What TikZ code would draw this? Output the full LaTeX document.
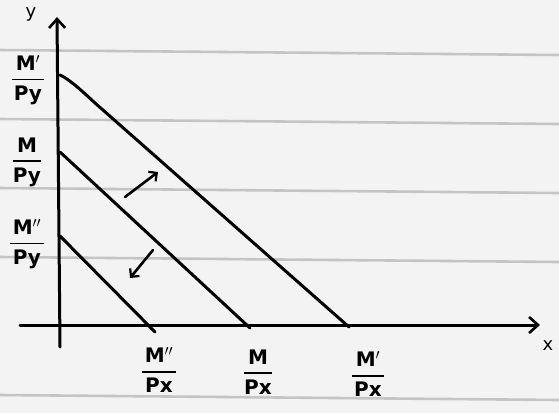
\documentclass[tikz,border=0pt]{standalone}
\usepackage{amsmath}
\usepackage{fontspec}
\setmainfont{DejaVu Sans}
\usetikzlibrary{arrows.meta}
\definecolor{paper}{HTML}{F3F3F3}
\definecolor{rule}{HTML}{C4C4C4}
\newcommand{\hfr}[2]{$\genfrac{}{}{1.8pt}{0}{\text{\,#1\,}}{\text{#2}}$}
\tikzset{
  ink/.style={line width=3pt, black, line cap=round, line join=round},
  budget/.style={ink},
  axisline/.style={ink, -{Straight Barb[length=9pt,width=16pt,line width=2.6pt]}},
  shift arrow/.style={line width=2.6pt, line cap=round, -{Straight Barb[length=6pt,width=12pt,line width=2.2pt]}},
  paperrule/.style={rule, line width=2.6pt},
  lbl/.style={font=\fontsize{20}{22}\selectfont\bfseries, inner sep=0pt, align=center},
  axlbl/.style={font=\fontsize{18}{20}\selectfont, inner sep=0pt}
}
\begin{document}
\begin{tikzpicture}[x=1pt,y=-1pt]
\useasboundingbox (0,0) rectangle (559,413);
\fill[paper] (0,0) rectangle (559,413);
% ruled paper lines
\foreach \yy in {50,119,188,257,395} {
  \draw[paperrule] (0,\yy) -- (559,\yy+5);
}
% axes
\coordinate (ybot) at (60,347);
\coordinate (ytop) at (57,17);
\coordinate (xleft) at (20,325);
\coordinate (xright) at (540,325);
\draw[axisline] (ybot) -- (ytop);
\draw[axisline] (xleft) -- (xright);
\node[axlbl] (ylab) at (31,14) {y};
\node[axlbl] (xlab) at (548,346) {x};
% budget lines
\coordinate (a1) at (60,75);
\coordinate (b1) at (349,327);
\coordinate (a0) at (60,152);
\coordinate (b0) at (250,328);
\coordinate (a2) at (60,236);
\coordinate (b2) at (155,332);
\draw[budget] (a1) .. controls (67,78) and (78,87) .. (95,103) -- (b1);
\draw[budget] (a0) -- (b0);
\draw[budget] (a2) -- (b2);
% shift arrows
\coordinate (u1) at (125,197);
\coordinate (u2) at (158,172);
\coordinate (d1) at (153,250);
\coordinate (d2) at (130,278);
\draw[shift arrow] (u1) -- (u2);
\draw[shift arrow] (d1) -- (d2);
% intercept labels
\node[lbl] (ly1) at (28,80) {\hfr{M$'$}{Py}};
\node[lbl] (ly0) at (27,162) {\hfr{M}{Py}};
\node[lbl] (ly2) at (27,244) {\hfr{M$''$}{Py}};
\node[lbl] (lx2) at (159,370) {\hfr{M$''$}{Px}};
\node[lbl] (lx0) at (258,372) {\hfr{M}{Px}};
\node[lbl] (lx1) at (368,374) {\hfr{M$'$}{Px}};
\end{tikzpicture}
\end{document}
